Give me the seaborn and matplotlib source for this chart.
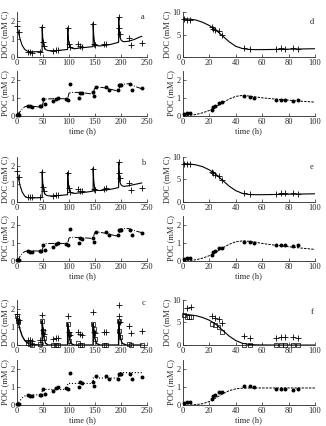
import matplotlib
matplotlib.use("Agg")
import matplotlib.pyplot as plt
import seaborn as sns

# measured points (left column: pulsed runs, right column: batch runs)
doc_t = [0, 3, 21, 25, 29, 44, 48.5, 50.5, 52, 70, 75, 79, 97.5, 99.5, 101, 118, 121, 125,
         146.5, 148.5, 150.5, 168, 172, 195.5, 197, 199, 216, 219, 240]
doc_y = [1.7, 1.4, 0.3, 0.27, 0.25, 0.3, 1.65, 0.85, 0.6, 0.35, 0.37, 0.38, 1.6, 0.75, 0.55, 0.7, 0.6, 0.58,
         1.85, 0.7, 0.65, 0.72, 0.75, 2.2, 1.6, 1.3, 1.05, 0.68, 0.78]
lab_t = [0, 1, 2, 3, 21, 25, 29, 44, 48.5, 50, 52, 70, 75, 79, 97.5, 99.5, 101, 118, 121, 125,
         146.5, 148, 150, 168, 172, 195.5, 197, 199, 216, 219, 240]
lab_y = [1.6, 1.5, 1.35, 1.25, 0.1, 0.07, 0.02, 0.05, 1.35, 0.8, 0.4, 0.0, 0.0, 0.0, 1.15, 0.6, 0.2, 0.1, 0.0, 0.0,
         1.15, 0.9, 0.35, 0.0, 0.0, 1.35, 0.8, 0.45, 0.05, 0.0, 0.0]
poc_t = [0, 2, 4, 21, 25, 29, 44, 47, 50, 53, 70, 75, 79, 95, 98, 101, 119, 122, 125,
         146, 149, 152, 172, 176, 194, 196, 198, 200, 218, 222, 240]
poc_y = [0.07, 0.08, 0.06, 0.54, 0.52, 0.48, 0.54, 0.57, 0.92, 0.64, 0.8, 0.96, 1.0, 0.96, 0.9, 1.78, 1.0, 1.29, 1.25,
         1.3, 1.08, 1.6, 1.6, 1.46, 1.45, 1.7, 1.73, 1.7, 1.75, 1.45, 1.55]

r_doc_t = [0.5, 3, 5.5, 22, 23, 24.5, 27, 29.5, 46, 51, 70.5, 74, 77, 83.5, 87]
r_doc_y = [8.5, 8.3, 8.3, 6.6, 6.3, 6.0, 5.7, 4.9, 2.0, 1.8, 1.8, 1.95, 1.9, 1.95, 1.8]
r_poc_t = [0.5, 3, 5.5, 22, 23, 24, 27, 29.5, 46.5, 50.5, 53.5, 70.5, 74, 77, 83.5, 87]
r_poc_y = [0.12, 0.15, 0.15, 0.35, 0.48, 0.55, 0.72, 0.75, 1.08, 1.06, 1.0, 0.87, 0.9, 0.88, 0.83, 0.88]
f_doc_t = [3, 6, 22, 24, 27, 29.5, 46.5, 50.5, 70.5, 74, 77, 83.5, 87]
f_doc_y = [8.3, 8.5, 6.4, 6.0, 5.7, 4.8, 1.9, 1.5, 1.6, 1.7, 1.7, 1.7, 1.6]
f_lab_t = [0.5, 3, 4.5, 6, 22, 24, 27, 29.5, 46.5, 50.5, 70.5, 74, 77, 83.5, 87]
f_lab_y = [6.6, 6.2, 6.2, 6.2, 4.7, 4.4, 3.9, 2.9, 0.05, 0.05, 0.05, 0.05, 0.05, 0.05, 0.05]

# model curves
m_t = [0, 3, 6, 10, 15, 20, 25, 30, 40, 48.4, 48.5, 49.5, 51, 53, 56, 60, 70, 80, 90,
       97.4, 97.5, 98.5, 100, 102, 105, 110, 120, 130, 140, 146.4, 146.5, 147.5, 149, 151, 154, 160, 170, 180, 190,
       195.4, 195.5, 196.5, 198, 200, 203, 206, 215, 225, 235, 240]
a_doc = [1.7, 1.35, 1.0, 0.65, 0.42, 0.33, 0.3, 0.29, 0.3,
         0.3, 1.68, 1.1, 0.7, 0.5, 0.4, 0.36, 0.35, 0.37, 0.4,
         0.42, 1.62, 1.1, 0.75, 0.58, 0.5, 0.46, 0.5, 0.53, 0.56,
         0.58, 1.88, 1.2, 0.85, 0.7, 0.63, 0.62, 0.65, 0.7, 0.78,
         0.82, 2.2, 1.5, 1.1, 0.95, 0.87, 0.85, 0.88, 0.97, 1.1, 1.15]
b_doc = [1.7, 1.3, 0.9, 0.55, 0.32, 0.24, 0.22, 0.22, 0.23,
         0.24, 1.68, 1.1, 0.7, 0.48, 0.38, 0.34, 0.33, 0.35, 0.38,
         0.4, 1.62, 1.1, 0.75, 0.57, 0.5, 0.47, 0.5, 0.53, 0.57,
         0.6, 1.88, 1.2, 0.85, 0.7, 0.64, 0.63, 0.66, 0.7, 0.76,
         0.8, 2.2, 1.5, 1.1, 0.95, 0.88, 0.86, 0.9, 0.96, 1.02, 1.05]
c_doc_t = [0, 3, 6, 10, 15, 20, 25, 30, 48.4, 48.5, 50, 52, 55, 60, 97.4, 97.5, 99, 101, 104, 110,
           146.4, 146.5, 148, 150, 153, 160, 195.4, 195.5, 197, 199, 202, 210, 240]
c_doc = [1.6, 1.2, 0.85, 0.5, 0.25, 0.12, 0.05, 0.02, 0.0, 1.35, 0.8, 0.4, 0.1, 0.0, 0.0, 1.2, 0.7, 0.35, 0.08, 0.0,
         0.0, 1.2, 0.7, 0.35, 0.08, 0.0, 0.0, 1.35, 0.8, 0.4, 0.1, 0.0, 0.0]
p_t = [0, 5, 10, 15, 20, 30, 40, 48.5, 51, 55, 70, 85, 97.5, 100, 104, 120, 135, 146.5, 149, 153, 170, 190,
       195.5, 198, 202, 215, 230, 240]
a_poc = [0, 0.2, 0.38, 0.5, 0.55, 0.53, 0.5, 0.5, 0.85, 0.93, 0.95, 0.95, 0.95, 1.25, 1.3, 1.3, 1.25, 1.2,
         1.5, 1.6, 1.55, 1.4, 1.4, 1.7, 1.75, 1.78, 1.6, 1.5]
b_poc = [0, 0.22, 0.42, 0.53, 0.57, 0.57, 0.56, 0.57, 0.9, 0.97, 0.98, 0.98, 0.98, 1.28, 1.32, 1.3, 1.28, 1.25,
         1.55, 1.62, 1.55, 1.4, 1.42, 1.75, 1.8, 1.8, 1.65, 1.58]
c_poc_t = [0, 5, 10, 15, 20, 30, 48.4, 48.5, 97.4, 97.5, 146.4, 146.5, 195.4, 195.5, 240]
c_poc = [0, 0.22, 0.4, 0.5, 0.55, 0.57, 0.57, 0.87, 0.87, 1.2, 1.2, 1.5, 1.5, 1.8, 1.8]

r_t = [0, 5, 10, 15, 20, 25, 30, 35, 40, 45, 50, 55, 60, 70, 80, 90, 100]
d_doc = [8.5, 8.4, 8.2, 7.7, 7.0, 6.0, 4.7, 3.4, 2.4, 1.9, 1.7, 1.65, 1.65, 1.7, 1.75, 1.8, 1.85]
d_poc = [0, 0.03, 0.08, 0.17, 0.3, 0.5, 0.72, 0.93, 1.08, 1.13, 1.1, 1.05, 1.0, 0.93, 0.87, 0.81, 0.76]
e_doc = [8.5, 8.4, 8.2, 7.8, 7.1, 6.1, 4.8, 3.5, 2.5, 1.9, 1.65, 1.6, 1.6, 1.65, 1.7, 1.75, 1.8]
e_poc = [0, 0.03, 0.08, 0.17, 0.3, 0.5, 0.72, 0.93, 1.07, 1.12, 1.1, 1.05, 0.98, 0.88, 0.8, 0.72, 0.65]
f_doc = [6.8, 6.7, 6.5, 6.1, 5.5, 4.6, 3.3, 2.0, 1.0, 0.4, 0.15, 0.05, 0.02, 0, 0, 0, 0]
f_poc = [0, 0.01, 0.03, 0.08, 0.2, 0.4, 0.62, 0.8, 0.9, 0.94, 0.95, 0.95, 0.95, 0.95, 0.95, 0.95, 0.95]

sns.set_style("ticks")
plt.rcParams['font.family'] = ['Liberation Serif', 'DejaVu Serif']
plt.rcParams['font.size'] = 6

fig = plt.figure(figsize=(3.26, 4.26), dpi=100)

cols = {'L': (0.052, 0.399), 'R': (0.561, 0.405)}
doc_bottoms = [0.866, 0.526, 0.190]
poc_bottoms = [0.728, 0.387, 0.049]
h = 0.106


def style(ax, xmax, xstep, ymax, yticks, ylabel, xlabel=None):
    ax.set_xlim(0, xmax)
    ax.set_ylim(0, ymax)
    ax.set_xticks(range(0, xmax + 1, xstep))
    ax.set_yticks(yticks)
    sns.despine(ax=ax)
    for s in ['left', 'bottom']:
        ax.spines[s].set_linewidth(0.6)
    ax.tick_params(direction='in', length=2, width=0.5, labelsize=6, pad=1.5)
    ax.set_ylabel(ylabel, fontsize=6, labelpad=1)
    ax.set_xlabel(xlabel if xlabel else '', fontsize=6, labelpad=1)


def line(ax, x, y, ls='-', lw=0.8):
    sns.lineplot(x=x, y=y, ax=ax, color='k', linewidth=lw, linestyle=ls,
                 sort=False, estimator=None)


def plus(ax, x, y):
    sns.scatterplot(x=x, y=y, ax=ax, marker='+', color='k', s=18, linewidth=0.6,
                    legend=False, zorder=3, clip_on=False)


def dots(ax, x, y):
    sns.scatterplot(x=x, y=y, ax=ax, marker='o', color='k', s=8, linewidth=0,
                    legend=False, zorder=3, clip_on=False)


def squares(ax, x, y):
    ax.scatter(x, y, marker='s', s=8, facecolors='none', edgecolors='k', linewidths=0.5,
               zorder=3, clip_on=False)


left_doc = [a_doc, b_doc, c_doc]
left_poc = [a_poc, b_poc, c_poc]
right_doc = [d_doc, e_doc, f_doc]
right_poc = [d_poc, e_poc, f_poc]
letters_l = [('a', 0.89), ('b', 0.87), ('c', 0.93)]
letters_r = [('d', 0.78), ('e', 0.78), ('f', 0.73)]

for i in range(3):
    # left column
    l, w = cols['L']
    ax1 = fig.add_axes([l, doc_bottoms[i], w, h])
    ax2 = fig.add_axes([l, poc_bottoms[i], w, h])
    if i < 2:
        line(ax1, m_t, left_doc[i])
        line(ax2, p_t, left_poc[i], ls='-.', lw=0.7)
    else:
        line(ax1, c_doc_t, c_doc, lw=1.0)
        squares(ax1, lab_t, lab_y)
        line(ax2, c_poc_t, c_poc, ls=':', lw=0.8)
    plus(ax1, doc_t, doc_y)
    dots(ax2, poc_t, poc_y)
    style(ax1, 250, 50, 2.5, [0, 1, 2], 'DOC (mM C)')
    style(ax2, 250, 50, 2.5, [0, 1, 2], 'POC (mM C)', 'time (h)')
    ax1.text(0.97, letters_l[i][1], letters_l[i][0], transform=ax1.transAxes,
             ha='center', va='center', fontsize=6)

    # right column
    l, w = cols['R']
    ax3 = fig.add_axes([l, doc_bottoms[i], w, h])
    ax4 = fig.add_axes([l, poc_bottoms[i], w, h])
    line(ax3, r_t, right_doc[i])
    line(ax4, r_t, right_poc[i], ls=(0, (2.5, 1.2)), lw=0.7)
    if i < 2:
        plus(ax3, r_doc_t, r_doc_y)
    else:
        plus(ax3, f_doc_t, f_doc_y)
        squares(ax3, f_lab_t, f_lab_y)
    dots(ax4, r_poc_t, r_poc_y)
    style(ax3, 100, 20, 10, [0, 5, 10], 'DOC (mM C)')
    style(ax4, 100, 20, 2.5, [0, 1, 2], 'POC (mM C)', 'time (h)')
    ax3.text(0.977, letters_r[i][1], letters_r[i][0], transform=ax3.transAxes,
             ha='center', va='center', fontsize=6)

fig.savefig('out.png', dpi=100)
